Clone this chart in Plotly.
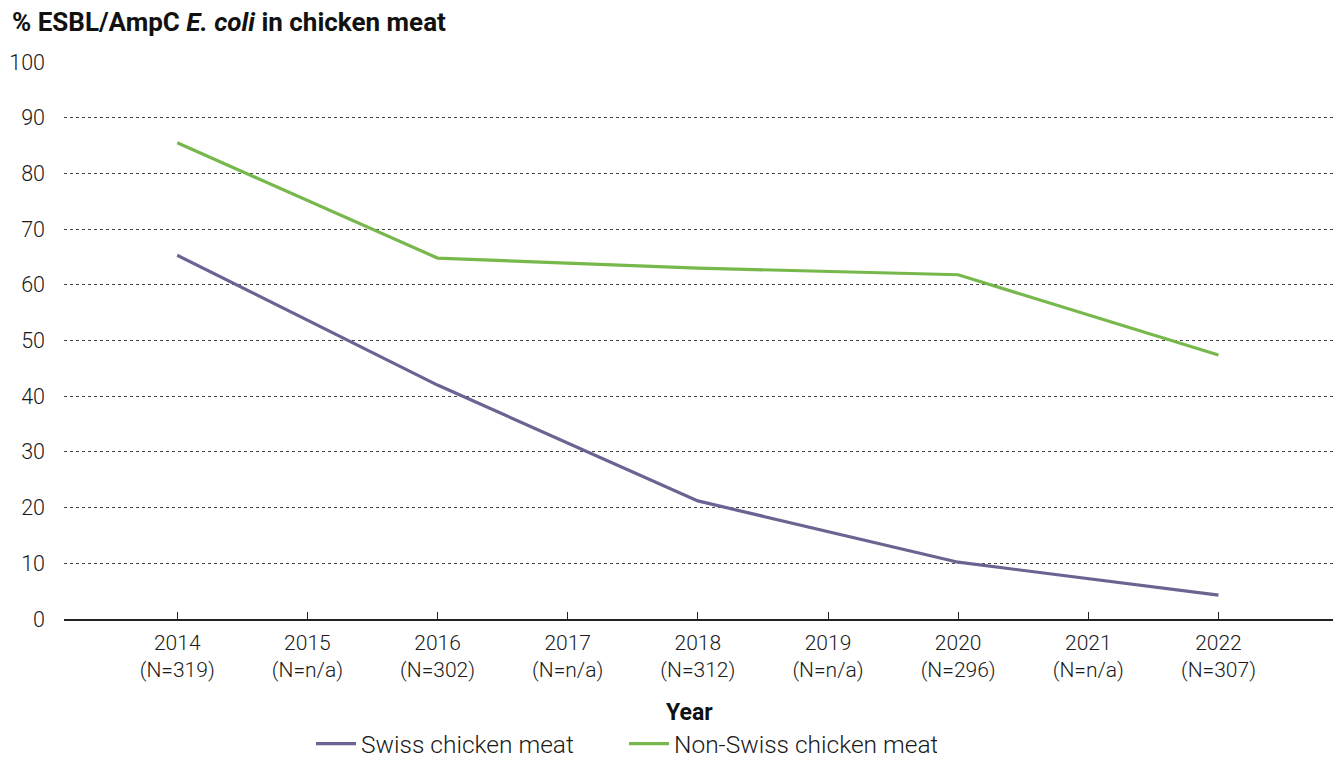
import plotly.graph_objects as go

# Survey years and sample sizes
years = [2014, 2015, 2016, 2017, 2018, 2019, 2020, 2021, 2022]
sample_sizes = ["319", "n/a", "302", "n/a", "312", "n/a", "296", "n/a", "307"]

# Share of ESBL/AmpC-producing E. coli (%), surveyed every second year
swiss = [65.3, None, 42.0, None, 21.2, None, 10.2, None, 4.3]
non_swiss = [85.5, None, 64.8, None, 63.0, None, 61.8, None, 47.4]

tick_text = [f"{y}<br>(N={n})" for y, n in zip(years, sample_sizes)]

FONT = "Roboto"
TEXT = "#1a1a1a"

fig = go.Figure()
fig.add_trace(go.Scatter(
    x=years, y=swiss, name="Swiss chicken meat", mode="lines",
    connectgaps=True, line=dict(color="#6B6391", width=3.2),
))
fig.add_trace(go.Scatter(
    x=years, y=non_swiss, name="Non-Swiss chicken meat", mode="lines",
    connectgaps=True, line=dict(color="#77B84C", width=3.2),
))

fig.update_layout(
    width=1340, height=760,
    margin=dict(l=64, r=7, t=62, b=141, autoexpand=False),
    paper_bgcolor="white", plot_bgcolor="white",
    font=dict(family=FONT, size=20, color=TEXT, weight=300),
    title=dict(
        text="<b>% ESBL/AmpC <i>E. coli</i> in chicken meat</b>",
        xref="container", yref="container",
        x=12 / 1340, xanchor="left", y=1 - 22 / 760, yanchor="middle",
        font=dict(family=FONT, size=26, color="#111111", weight=700),
    ),
    showlegend=True,
    legend=dict(
        orientation="h", xanchor="left", yanchor="middle",
        x=(318 - 64 - 7) / 1269, y=-0.224,
        font=dict(size=24.5, weight=300),
        itemwidth=40, tracegroupgap=0,
        entrywidth=258, entrywidthmode="pixels",
    ),
    annotations=[dict(
        text="<b>Year</b>", xref="paper", yref="paper",
        x=0.493, y=-0.167, xanchor="center", yanchor="middle",
        showarrow=False,
        font=dict(family=FONT, size=23, color="#111111", weight=700),
    )],
)

fig.update_xaxes(
    range=[2013.13, 2022.88],
    tickmode="array", tickvals=years, ticktext=tick_text,
    ticks="inside", ticklen=7, tickcolor="#222222", tickwidth=1,
    showgrid=False, zeroline=False,
    showline=True, linecolor="#222222", linewidth=1.5,
    ticklabelstandoff=4,
    tickfont=dict(size=21, color=TEXT, weight=300),
)
fig.update_yaxes(
    range=[0, 100], tickvals=list(range(0, 101, 10)),
    showgrid=True, gridcolor="#444444", gridwidth=1, griddash="dot",
    zeroline=False, showline=False, ticks="",
    ticklabelstandoff=18,
    tickfont=dict(size=21.5, color=TEXT, weight=300),
)

fig.write_html("out.html")
